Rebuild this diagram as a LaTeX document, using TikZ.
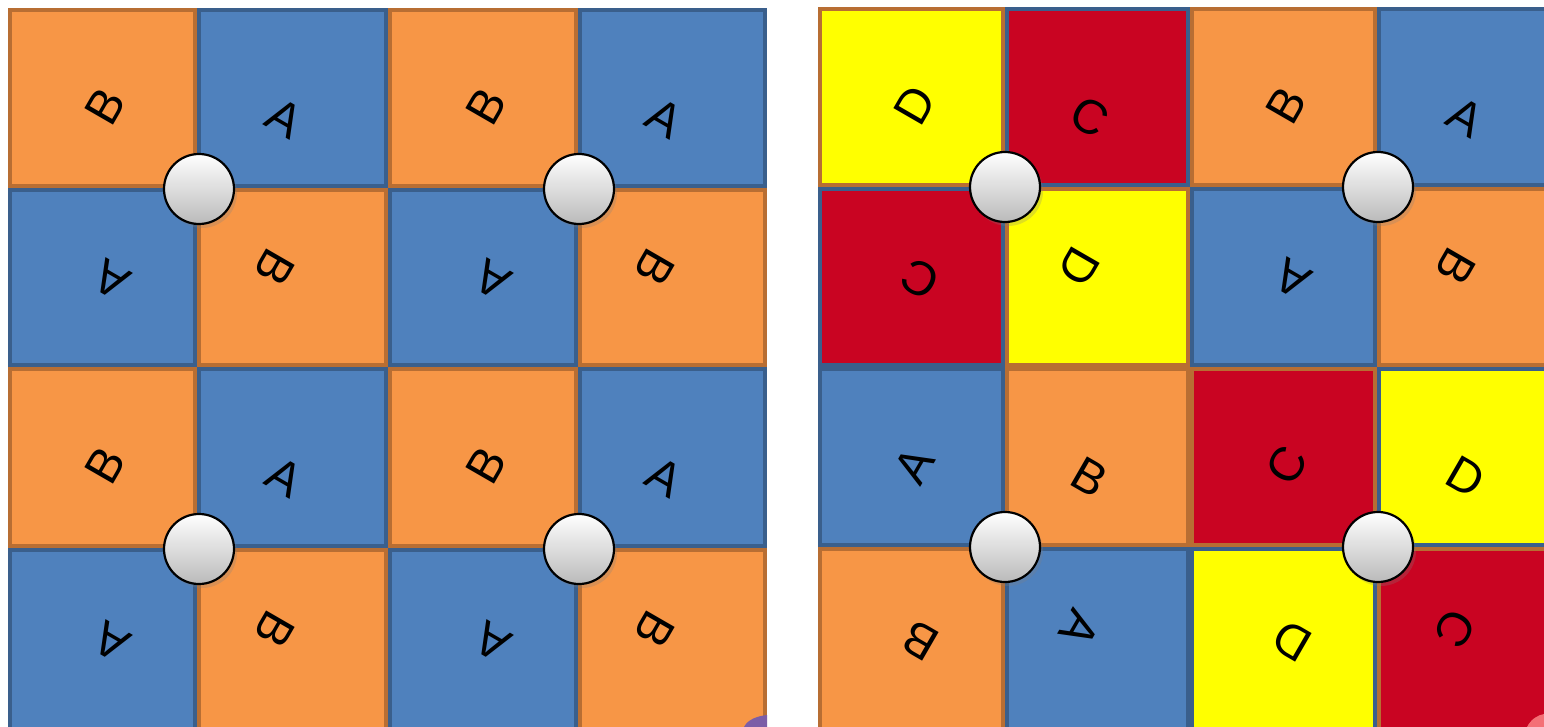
\documentclass[tikz,border=0pt]{standalone}
\usepackage{fontspec}
\setmainfont{Liberation Sans}
\usetikzlibrary{shadows}
\definecolor{orng}{HTML}{F79646}
\definecolor{orngB}{HTML}{B86E33}
\definecolor{blu}{HTML}{4F81BD}
\definecolor{bluB}{HTML}{3A5F8C}
\definecolor{yel}{HTML}{FFFF00}
\definecolor{redc}{HTML}{C90422}
\definecolor{purp}{HTML}{7B5EA7}
\tikzset{
  cell/.style={line width=4pt, inner sep=0pt, outer sep=0pt, anchor=north west},
  sOr/.style={fill=orng, draw=orngB},
  sBl/.style={fill=blu, draw=bluB},
  sYo/.style={fill=yel, draw=orngB},
  sYb/.style={fill=yel, draw=bluB},
  sRb/.style={fill=redc, draw=bluB},
  sRo/.style={fill=redc, draw=orngB},
  lett/.style={font=\fontsize{48}{48}\selectfont, inner sep=0pt, text=black},
  knob/.style={circle, draw=black, line width=2.2pt, minimum size=70pt, inner sep=0pt,
    top color=white, bottom color=black!27,
    drop shadow={opacity=0.25, shadow xshift=3pt, shadow yshift=-4pt}}
}
\def\dxTL{3}\def\dyTL{8}\def\angTL{60}
\def\dxTR{-8}\def\dyTR{20}\def\angTR{-30}
\def\dxBL{9}\def\dyBL{2}\def\angBL{150}
\def\dxBR{-18}\def\dyBR{-10}\def\angBR{-120}
% name, x0, y0, x1, y1, style, letter, position
\newcommand\tile[8]{%
  \node[cell,#6,minimum width={#4-#2-4},minimum height={#5-#3-4}] (#1) at ({#2+2},{-#3-2}) {};
  \node[lett,rotate=\csname ang#8\endcsname] (#1t)
    at ({(#2+#4)/2+\csname dx#8\endcsname},{-(#3+#5)/2-\csname dy#8\endcsname}) {#7};
}
\begin{document}
\begin{tikzpicture}[x=1pt,y=1pt]
\useasboundingbox (0,0) rectangle (1544,-727);
\fill[white] (0,0) rectangle (1544,-727);
% ---------- left panel ----------
% columns 8,197,388,578,767 ; rows 8,188,367,548,731
\tile{L11}{8}{8}{197}{188}{sOr}{B}{TL}
\tile{L12}{197}{8}{388}{188}{sBl}{A}{TR}
\tile{L21}{8}{188}{197}{367}{sBl}{A}{BL}
\tile{L22}{197}{188}{388}{367}{sOr}{B}{BR}
\tile{L13}{388}{8}{578}{188}{sOr}{B}{TL}
\tile{L14}{578}{8}{767}{188}{sBl}{A}{TR}
\tile{L23}{388}{188}{578}{367}{sBl}{A}{BL}
\tile{L24}{578}{188}{767}{367}{sOr}{B}{BR}
\tile{L31}{8}{367}{197}{548}{sOr}{B}{TL}
\tile{L32}{197}{367}{388}{548}{sBl}{A}{TR}
\tile{L41}{8}{548}{197}{731}{sBl}{A}{BL}
\tile{L42}{197}{548}{388}{731}{sOr}{B}{BR}
\tile{L33}{388}{367}{578}{548}{sOr}{B}{TL}
\tile{L34}{578}{367}{767}{548}{sBl}{A}{TR}
\tile{L43}{388}{548}{578}{731}{sBl}{A}{BL}
\tile{L44}{578}{548}{767}{731}{sOr}{B}{BR}
% ---------- right panel ----------
% columns 818,1005,1190,1377,1570 ; rows 7,187,367,547,731
\tile{R11}{818}{7}{1005}{187}{sYo}{D}{TL}
\tile{R12}{1005}{7}{1190}{187}{sRb}{C}{TR}
\tile{R21}{818}{187}{1005}{367}{sRb}{C}{BL}
\tile{R22}{1005}{187}{1190}{367}{sYo}{D}{BR}
\tile{R13}{1190}{7}{1377}{187}{sOr}{B}{TL}
\tile{R14}{1377}{7}{1570}{187}{sBl}{A}{TR}
\tile{R23}{1190}{187}{1377}{367}{sBl}{A}{BL}
\tile{R24}{1377}{187}{1570}{367}{sOr}{B}{BR}
\tile{R31}{818}{367}{1005}{547}{sBl}{A}{TL}
\tile{R32}{1005}{367}{1190}{547}{sOr}{B}{TR}
\tile{R41}{818}{547}{1005}{731}{sOr}{B}{BL}
\tile{R42}{1005}{547}{1190}{731}{sBl}{A}{BR}
\tile{R33}{1190}{367}{1377}{547}{sRo}{C}{TL}
\tile{R34}{1377}{367}{1570}{547}{sYb}{D}{TR}
\tile{R43}{1190}{547}{1377}{731}{sYb}{D}{BL}
\tile{R44}{1377}{547}{1570}{731}{sRo}{C}{BR}
% ---------- knobs ----------
\node[knob] (kL1) at (199,-189) {};
\node[knob] (kL2) at (579,-189) {};
\node[knob] (kL3) at (199,-549) {};
\node[knob] (kL4) at (579,-549) {};
\node[knob] (kR1) at (1005,-187) {};
\node[knob] (kR2) at (1378,-187) {};
\node[knob] (kR3) at (1005,-547) {};
\node[knob] (kR4) at (1378,-547) {};
% ---------- small corner artefacts ----------
\fill[purp] (744,-727) .. controls (748,-719) and (758,-716) .. (767,-715) -- (767,-727) -- cycle;
\fill[red!45!white, opacity=0.8] (1527,-727) .. controls (1531,-719) and (1538,-715) .. (1544,-714) -- (1544,-727) -- cycle;
\end{tikzpicture}
\end{document}
